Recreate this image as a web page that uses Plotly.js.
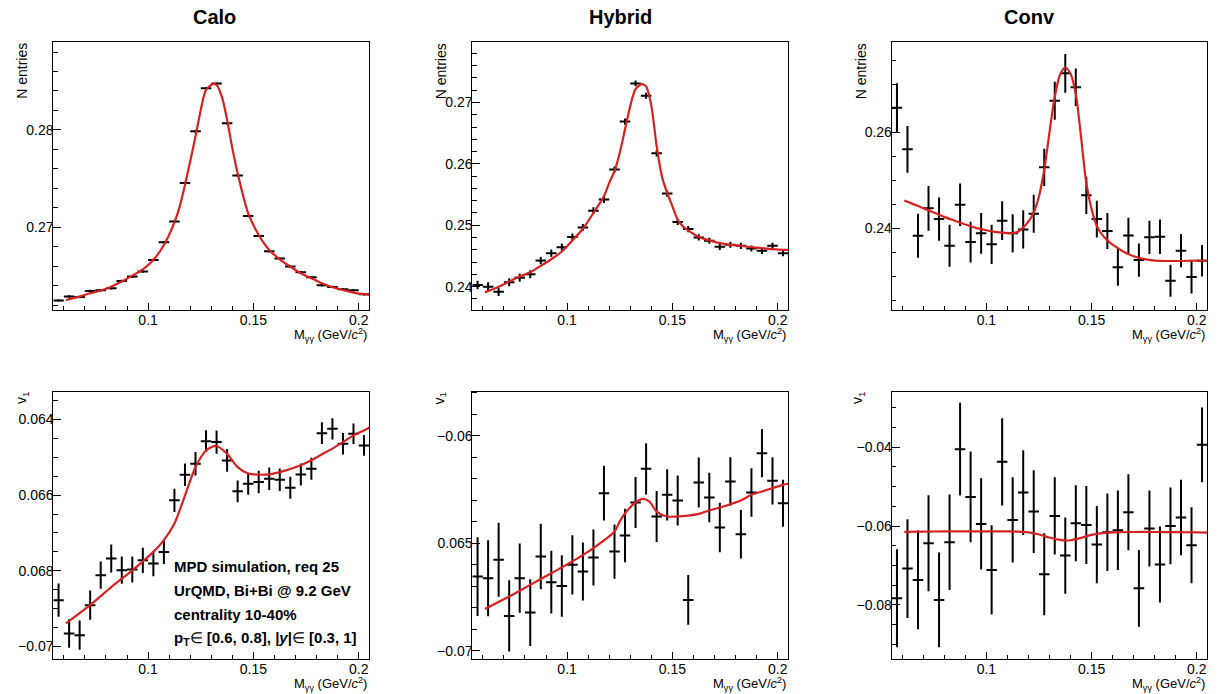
<!DOCTYPE html>
<html>
<head>
<meta charset="utf-8">
<script src="https://cdn.plot.ly/plotly-3.0.1.min.js"></script>
<style>html,body{margin:0;padding:0;background:#fff;}#chart{width:1225px;height:694px;}</style>
</head>
<body>
<div id="chart"></div>
<script>
// ---------- DATA ----------
const binCenters = [0.0575,0.0625,0.0675,0.0725,0.0775,0.0825,0.0875,0.0925,0.0975,0.1025,0.1075,0.1125,0.1175,0.1225,0.1275,0.1325,0.1375,0.1425,0.1475,0.1525,0.1575,0.1625,0.1675,0.1725,0.1775,0.1825,0.1875,0.1925,0.1975,0.2025];
const binHalfWidth = 0.0025;

// N entries
const caloN = [0.26247,0.26288,0.26284,0.26346,0.26353,0.26373,0.26449,0.26493,0.26545,0.26664,0.26846,0.27058,0.27455,0.27986,0.28428,0.28476,0.28068,0.27531,0.27116,0.26911,0.26753,0.26678,0.26596,0.26538,0.26486,0.26404,0.26387,0.26363,0.26353,0.26312];
const caloNErr = [0.00013,0.00013,0.00013,0.00013,0.00013,0.00013,0.00013,0.00013,0.00013,0.00013,0.00013,0.00013,0.00012,0.00012,0.00012,0.00012,0.00012,0.00012,0.00012,0.00012,0.00012,0.00012,0.00012,0.00012,0.00012,0.00012,0.00012,0.00012,0.00012,0.00012];
const caloFitX = [0.061,0.0675,0.0725,0.0775,0.0825,0.0875,0.0925,0.0975,0.1025,0.1075,0.1125,0.115,0.1175,0.1225,0.125,0.1275,0.131,0.1325,0.135,0.1375,0.14,0.1425,0.1475,0.1525,0.1575,0.1625,0.1675,0.1725,0.1775,0.1825,0.1875,0.1925,0.1975,0.2025,0.205];
const caloFitY = [0.26253,0.26288,0.26322,0.2635,0.2639,0.26442,0.26503,0.26568,0.26664,0.26818,0.27051,0.27212,0.27435,0.27932,0.28205,0.28411,0.28473,0.28462,0.28342,0.28103,0.2781,0.27555,0.27144,0.26921,0.26767,0.26671,0.26596,0.26527,0.26476,0.26425,0.26384,0.26356,0.26329,0.26312,0.26305];

const hybridN = [0.24027,0.24000,0.23918,0.24071,0.24147,0.24202,0.24425,0.24545,0.24644,0.24807,0.24965,0.25238,0.25418,0.25909,0.26689,0.27311,0.27109,0.26171,0.25516,0.25053,0.24938,0.24802,0.24747,0.24649,0.24682,0.24665,0.24622,0.24584,0.24665,0.24545];
const hybridNErr = [0.0007,0.0007,0.0007,0.00065,0.00065,0.00065,0.0006,0.0006,0.0006,0.0006,0.00055,0.00055,0.00055,0.0005,0.0005,0.00048,0.00048,0.0005,0.0005,0.0005,0.0005,0.0005,0.0005,0.0005,0.0005,0.0005,0.0005,0.0005,0.0005,0.0005];
const hybridFitX = [0.061,0.0675,0.0725,0.0775,0.0825,0.0875,0.0925,0.0975,0.1025,0.1075,0.1125,0.1175,0.12,0.1225,0.125,0.1275,0.13,0.1325,0.1355,0.1375,0.14,0.1425,0.145,0.1475,0.15,0.1525,0.155,0.1575,0.1625,0.1675,0.1725,0.1775,0.1825,0.1875,0.1925,0.1975,0.2025,0.205];
const hybridFitY = [0.23907,0.24000,0.24082,0.24164,0.24235,0.24338,0.24447,0.24573,0.24753,0.24944,0.25200,0.25473,0.25691,0.25882,0.26182,0.26564,0.26945,0.27218,0.27300,0.27262,0.26945,0.26291,0.25800,0.25527,0.25309,0.25091,0.24982,0.24916,0.24807,0.24753,0.24709,0.24682,0.24665,0.24644,0.24627,0.24611,0.24600,0.24600];

const convN = [0.26514,0.25646,0.23847,0.24417,0.24194,0.23639,0.24493,0.23715,0.23896,0.23667,0.24160,0.23896,0.23979,0.24306,0.25271,0.26660,0.27229,0.26938,0.24688,0.24194,0.23944,0.23188,0.23854,0.23340,0.23813,0.23826,0.22910,0.23535,0.22986,0.23326];
const convNErr = [0.00507,0.00486,0.00458,0.00465,0.00451,0.00438,0.00444,0.00424,0.00424,0.0041,0.00403,0.00396,0.00396,0.00396,0.00389,0.00396,0.00403,0.00389,0.00389,0.00382,0.00375,0.00382,0.00368,0.00347,0.00347,0.00361,0.00333,0.00347,0.0034,0.00326];
const convFitX = [0.061,0.065,0.07,0.075,0.08,0.085,0.09,0.095,0.10,0.105,0.11,0.1125,0.115,0.1175,0.12,0.1225,0.125,0.1275,0.13,0.1325,0.135,0.1375,0.14,0.1425,0.145,0.1475,0.15,0.1525,0.155,0.1575,0.16,0.165,0.17,0.175,0.18,0.19,0.20,0.205];
const convFitY = [0.2458,0.2451,0.2442,0.2433,0.2424,0.2416,0.2408,0.2401,0.2396,0.2392,0.2390,0.2390,0.2393,0.2402,0.2414,0.2433,0.2467,0.2522,0.2600,0.2674,0.2720,0.2735,0.2722,0.2680,0.2590,0.2494,0.2440,0.2405,0.2387,0.2375,0.2366,0.2352,0.2342,0.2336,0.2333,0.2332,0.2333,0.2333];

// v1
const caloV1 = [-0.068777,-0.069657,-0.069701,-0.068909,-0.068117,-0.067678,-0.067985,-0.067968,-0.067722,-0.067810,-0.067502,-0.066138,-0.065460,-0.065170,-0.064572,-0.064598,-0.065082,-0.065900,-0.065698,-0.065654,-0.065566,-0.065592,-0.065804,-0.065452,-0.065302,-0.064361,-0.064246,-0.064642,-0.064378,-0.064686];
const caloV1Err = [0.00044,0.000378,0.000387,0.000387,0.00036,0.00037,0.00036,0.000343,0.000334,0.000334,0.000317,0.000308,0.000299,0.000308,0.00029,0.000308,0.000299,0.00029,0.00029,0.000299,0.000299,0.000299,0.00029,0.00029,0.00029,0.00029,0.000282,0.000282,0.000273,0.000273];
const caloV1FitX = [0.061,0.0675,0.0725,0.0775,0.0825,0.0875,0.0925,0.0975,0.1025,0.1075,0.1125,0.1175,0.1225,0.1275,0.1325,0.1375,0.1425,0.1475,0.1525,0.1575,0.1625,0.1675,0.1725,0.1775,0.1825,0.1875,0.1925,0.1975,0.2025,0.205];
const caloV1FitY = [-0.06939,-0.06912,-0.06891,-0.06867,-0.06843,-0.06821,-0.06799,-0.06775,-0.06750,-0.06719,-0.06675,-0.06601,-0.06526,-0.06482,-0.06470,-0.06491,-0.06526,-0.06543,-0.06546,-0.06545,-0.06539,-0.06531,-0.06521,-0.06508,-0.06492,-0.06477,-0.06460,-0.06442,-0.06429,-0.06422];

const hybridV1 = [-0.066543,-0.066620,-0.065767,-0.068372,-0.066620,-0.068217,-0.065612,-0.066806,-0.066977,-0.066000,-0.066310,-0.065659,-0.062667,-0.065380,-0.064636,-0.063101,-0.061535,-0.063752,-0.062744,-0.063008,-0.067628,-0.062171,-0.062868,-0.064264,-0.062124,-0.064574,-0.062636,-0.060806,-0.062093,-0.063132];
const hybridV1Err = [0.00183,0.00177,0.00172,0.00166,0.00161,0.00155,0.00152,0.00146,0.00143,0.00138,0.00135,0.0013,0.00127,0.00126,0.00124,0.00119,0.00119,0.00119,0.00119,0.00116,0.00116,0.00116,0.00115,0.00115,0.00113,0.00113,0.00113,0.00112,0.0011,0.00109];
const hybridV1FitX = [0.061,0.0725,0.0825,0.0925,0.1025,0.1125,0.1225,0.125,0.1275,0.1325,0.136,0.139,0.1425,0.1475,0.1525,0.1575,0.1625,0.1675,0.1725,0.1775,0.1825,0.1875,0.1925,0.1975,0.2025,0.205];
const hybridV1FitY = [-0.068047,-0.06747,-0.06693,-0.06639,-0.06584,-0.06522,-0.06445,-0.06398,-0.0636,-0.0631,-0.06293,-0.06305,-0.06352,-0.06375,-0.06375,-0.06371,-0.06363,-0.06347,-0.06333,-0.06318,-0.06301,-0.06274,-0.06259,-0.06243,-0.06228,-0.06223];

const convV1 = [-0.07831,-0.07078,-0.07366,-0.06436,-0.07873,-0.06410,-0.04051,-0.05260,-0.05945,-0.07112,-0.04372,-0.05844,-0.05150,-0.05632,-0.07222,-0.05742,-0.06749,-0.05928,-0.05970,-0.06469,-0.06157,-0.06106,-0.05649,-0.07577,-0.06063,-0.06977,-0.05996,-0.05784,-0.06486,-0.03941];
const convV1Err = [0.01243,0.01252,0.01252,0.01218,0.01201,0.01209,0.01176,0.0115,0.01159,0.01133,0.01108,0.01082,0.01074,0.01049,0.0104,0.00981,0.00964,0.00964,0.00989,0.00981,0.00981,0.01006,0.00964,0.00973,0.00964,0.00964,0.00973,0.00956,0.00964,0.00947];
const convV1FitX = [0.061,0.07,0.08,0.09,0.10,0.11,0.115,0.12,0.125,0.13,0.135,0.1375,0.14,0.145,0.15,0.155,0.16,0.17,0.18,0.19,0.20,0.205];
const convV1FitY = [-0.06148,-0.06140,-0.06136,-0.06136,-0.06136,-0.06136,-0.06140,-0.06160,-0.06215,-0.06290,-0.06350,-0.06368,-0.06360,-0.06300,-0.06225,-0.06180,-0.06160,-0.06150,-0.06150,-0.06155,-0.06160,-0.06165];

const panelTitles = ['Calo','Hybrid','Conv'];
const topYTitle = 'N entries';
const bottomYTitle = 'v<sub>1</sub>';
const xTitle = 'M<sub>γγ</sub> (GeV/<i>c</i><sup>2</sup>)';
const caloV1TickVals = [-0.07,-0.068,-0.066,-0.064];
const caloV1TickText = ['\u22120.07','0.068','0.066','0.064'];
const hybridV1TickVals = [-0.07,-0.065,-0.06];
const hybridV1TickText = ['\u22120.07','0.065','\u22120.06'];
const infoLines = ['<b>MPD simulation, req 25</b>','<b>UrQMD, Bi+Bi @ 9.2 GeV</b>','<b>centrality 10-40%</b>','<b>p<sub>T</sub></b>\u2208 <b>[0.6, 0.8], |<i>y</i>|</b>\u2208 <b>[0.3, 1]</b>'];

// ---------- LAYOUT HELPERS ----------
const W = 1225, H = 694;
const FONT = 'Liberation Sans, Arial, Helvetica, sans-serif';
const colPx = [[53.3,369.3],[472.3,788.3],[891.7,1207.3]];
const rowPx = [[42.3,310],[391.5,659.3]];
const fx = p => p / W;
const fy = p => 1 - p / H;
const RED = '#d42222';

const panels = [
  {x: binCenters, y: caloN, e: caloNErr, fx: caloFitX, fy: caloFitY, row:0, col:0},
  {x: binCenters, y: hybridN, e: hybridNErr, fx: hybridFitX, fy: hybridFitY, row:0, col:1},
  {x: binCenters, y: convN, e: convNErr, fx: convFitX, fy: convFitY, row:0, col:2},
  {x: binCenters, y: caloV1, e: caloV1Err, fx: caloV1FitX, fy: caloV1FitY, row:1, col:0},
  {x: binCenters, y: hybridV1, e: hybridV1Err, fx: hybridV1FitX, fy: hybridV1FitY, row:1, col:1},
  {x: binCenters, y: convV1, e: convV1Err, fx: convV1FitX, fy: convV1FitY, row:1, col:2}
];

const yCfg = [
  {range:[0.2615,0.2890], dtick:0.01, minor:0.002},
  {range:[0.2362,0.2798], dtick:0.01, minor:0.002},
  {range:[0.2230,0.27875], dtick:0.02, minor:0.005},
  {range:[-0.07034,-0.06326], tickvals:caloV1TickVals, ticktext:caloV1TickText, minor:0.0005},
  {range:[-0.07039,-0.05794], tickvals:hybridV1TickVals, ticktext:hybridV1TickText, minor:0.001},
  {range:[-0.09378,-0.02588], dtick:0.02, minor:0.005}
];

const data = [];
const layout = {
  width: W, height: H,
  margin: {l:0, r:0, t:0, b:0},
  paper_bgcolor: '#fff', plot_bgcolor: '#fff',
  showlegend: false,
  font: {family: FONT, size: 14, color: '#000'},
  annotations: []
};

panels.forEach((p, i) => {
  const n = i + 1;
  const xa = n === 1 ? 'x' : 'x' + n;
  const ya = n === 1 ? 'y' : 'y' + n;
  data.push({
    type: 'scatter', mode: 'markers', x: p.x, y: p.y, xaxis: xa, yaxis: ya,
    marker: {size: 0.1, color: '#000'},
    error_x: {type: 'constant', value: binHalfWidth, thickness: 2, width: 0, color: '#000'},
    error_y: {type: 'data', array: p.e, visible: true, thickness: 2, width: 0, color: '#000'},
    hoverinfo: 'x+y'
  });
  data.push({
    type: 'scatter', mode: 'lines', x: p.fx, y: p.fy, xaxis: xa, yaxis: ya,
    line: {color: RED, width: 2.2, shape: 'spline', smoothing: 0.8}
  });
  const cx = colPx[p.col], cy = rowPx[p.row];
  const xKey = n === 1 ? 'xaxis' : 'xaxis' + n;
  const yKey = n === 1 ? 'yaxis' : 'yaxis' + n;
  layout[xKey] = {
    domain: [fx(cx[0]), fx(cx[1])], anchor: ya,
    range: [0.055, 0.205], tick0: 0, dtick: 0.05,
    ticks: 'inside', ticklen: 7, tickwidth: 1, tickcolor: '#000',
    minor: {dtick: 0.01, tick0: 0, ticks: 'inside', ticklen: 4, tickcolor: '#000', tickwidth: 1},
    showline: true, linecolor: '#000', linewidth: 1, mirror: true,
    showgrid: false, zeroline: false, ticklabelstandoff: -3,
    tickfont: {family: FONT, size: 14, color: '#000'}
  };
  const yc = yCfg[i];
  const ycfg = {
    domain: [fy(cy[1]), fy(cy[0])], anchor: xa,
    range: yc.range,
    ticks: 'inside', ticklen: 8, tickwidth: 1, tickcolor: '#000',
    minor: {dtick: yc.minor, tick0: 0, ticks: 'inside', ticklen: 4.5, tickcolor: '#000', tickwidth: 1},
    showline: true, linecolor: '#000', linewidth: 1, mirror: true,
    showgrid: false, zeroline: false, ticklabelstandoff: -4,
    tickfont: {family: FONT, size: 14, color: '#000'}
  };
  if (yc.tickvals) { ycfg.tickmode = 'array'; ycfg.tickvals = yc.tickvals; ycfg.ticktext = yc.ticktext; }
  else { ycfg.tick0 = 0; ycfg.dtick = yc.dtick; }
  layout[yKey] = ycfg;

  // x title
  layout.annotations.push({
    xref: 'paper', yref: 'paper', x: fx(cx[1]) , y: fy(cy[1] + 25),
    xanchor: 'right', yanchor: 'middle', showarrow: false,
    text: xTitle, font: {family: FONT, size: 13, color: '#000'}
  });
});

// y titles
const yTitleX = [[22.5, 441, 861],[21.5, 439, 857.5]];
[0,1].forEach(r => {
  [0,1,2].forEach(c => {
    layout.annotations.push({
      xref: 'paper', yref: 'paper', x: fx(yTitleX[r][c]), y: fy(rowPx[r][0] - 1),
      xanchor: 'center', yanchor: 'top', showarrow: false, textangle: -90,
      text: r === 0 ? topYTitle : bottomYTitle,
      font: {family: FONT, size: 14, color: '#000'}
    });
  });
});

// panel titles
const titleCx = [214, 620, 1029];
panelTitles.forEach((t, c) => {
  layout.annotations.push({
    xref: 'paper', yref: 'paper', x: fx(titleCx[c]), y: fy(17),
    xanchor: 'center', yanchor: 'middle', showarrow: false,
    text: '<b>' + t + '</b>', font: {family: FONT, size: 20, color: '#000'}
  });
});

// info text
const infoY = [566.3, 590.5, 614.6, 638.6];
infoLines.forEach((t, k) => {
  layout.annotations.push({
    xref: 'paper', yref: 'paper', x: fx(172.3), y: fy(infoY[k]),
    xanchor: 'left', yanchor: 'middle', showarrow: false,
    text: t, font: {family: FONT, size: 15, color: '#000'}
  });
});

Plotly.newPlot('chart', data, layout, {displayModeBar: false, staticPlot: true});
</script>
</body>
</html>
